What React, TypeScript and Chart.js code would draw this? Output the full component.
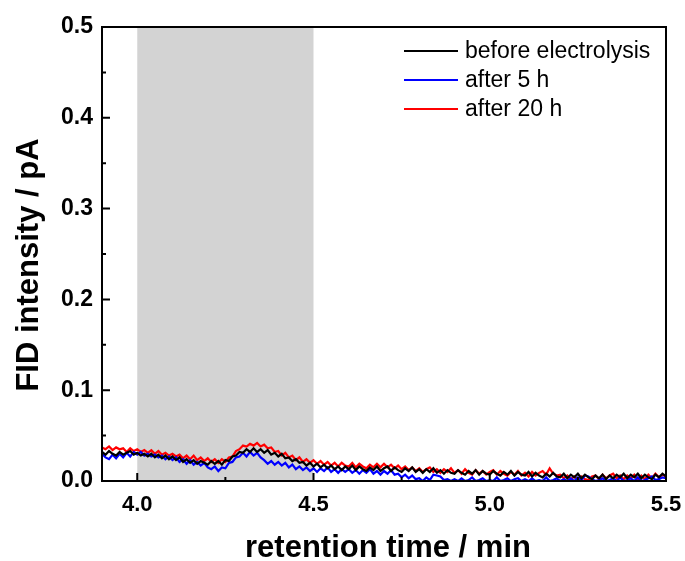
import React, { useEffect, useRef } from "react";
import { Chart, registerables } from "chart.js";

Chart.register(...registerables);

const T0 = 3.9;
const DT = 0.01;

const seriesNames = ["before electrolysis", "after 5 h", "after 20 h"];
const seriesColors = ["#000000", "#0000ff", "#ff0000"];
const xTitle = "retention time / min";
const yTitle = "FID intensity / pA";

const beforeElectrolysis = [
  0.032, 0.029, 0.033, 0.030, 0.028, 0.032, 0.029, 0.031, 0.033, 0.029,
  0.031, 0.028, 0.030, 0.027, 0.030, 0.026, 0.029, 0.025, 0.028, 0.024,
  0.027, 0.023, 0.026, 0.021, 0.024, 0.020, 0.023, 0.019, 0.022, 0.020,
  0.018, 0.022, 0.019, 0.022, 0.018, 0.023, 0.022, 0.027, 0.028, 0.032,
  0.031, 0.035, 0.032, 0.036, 0.032, 0.035, 0.031, 0.034, 0.029, 0.031,
  0.027, 0.030, 0.025, 0.026, 0.022, 0.024, 0.020, 0.021, 0.017, 0.020,
  0.016, 0.019, 0.015, 0.018, 0.014, 0.017, 0.013, 0.016, 0.012, 0.016,
  0.013, 0.017, 0.012, 0.016, 0.013, 0.011, 0.015, 0.012, 0.016, 0.011,
  0.014, 0.016, 0.011, 0.015, 0.012, 0.010, 0.014, 0.011, 0.015, 0.010,
  0.013, 0.009, 0.013, 0.010, 0.014, 0.009, 0.012, 0.008, 0.012, 0.009,
  0.008, 0.012, 0.009, 0.007, 0.011, 0.008, 0.012, 0.007, 0.011, 0.008,
  0.007, 0.011, 0.008, 0.006, 0.010, 0.007, 0.011, 0.006, 0.010, 0.007,
  0.006, 0.010, 0.005, 0.009, 0.006, 0.004, 0.008, 0.005, 0.009, 0.005,
  0.004, 0.008, 0.003, 0.007, 0.004, 0.008, 0.003, 0.007, 0.004, 0.002,
  0.006, 0.003, 0.007, 0.002, 0.006, 0.003, 0.007, 0.004, 0.008, 0.003,
  0.007, 0.004, 0.008, 0.003, 0.007, 0.004, 0.002, 0.007, 0.004, 0.008,
  0.005,
];

const after5h = [
  0.030, 0.026, 0.024, 0.029, 0.025, 0.030, 0.026, 0.031, 0.027, 0.032,
  0.029, 0.032, 0.028, 0.030, 0.027, 0.029, 0.026, 0.028, 0.024, 0.027,
  0.023, 0.026, 0.021, 0.024, 0.019, 0.023, 0.018, 0.021, 0.017, 0.020,
  0.015, 0.013, 0.016, 0.011, 0.015, 0.014, 0.020, 0.021, 0.026, 0.027,
  0.031, 0.027, 0.032, 0.028, 0.031, 0.026, 0.023, 0.019, 0.022, 0.018,
  0.021, 0.017, 0.020, 0.015, 0.018, 0.013, 0.016, 0.012, 0.015, 0.011,
  0.014, 0.010, 0.014, 0.011, 0.015, 0.010, 0.013, 0.009, 0.013, 0.010,
  0.013, 0.009, 0.012, 0.008, 0.012, 0.009, 0.013, 0.008, 0.011, 0.007,
  0.011, 0.008, 0.012, 0.007, 0.008, 0.004, 0.007, 0.003, 0.006, 0.002,
  0.003, 0.000, 0.004, 0.001, 0.007, 0.006, 0.005, 0.001, 0.002, 0.000,
  0.002, 0.000, 0.003, 0.000, 0.001, 0.004, 0.000, 0.001, 0.003, 0.000,
  0.001, 0.000, 0.004, 0.000, 0.001, 0.003, 0.000, 0.002, 0.003, 0.000,
  0.002, 0.000, 0.003, 0.000, 0.001, 0.000, 0.004, 0.000, 0.001, 0.003,
  0.000, 0.002, 0.000, 0.003, 0.000, 0.004, 0.001, 0.006, 0.005, 0.002,
  0.000, 0.001, 0.003, 0.000, 0.001, 0.003, 0.000, 0.004, 0.000, 0.001,
  0.003, 0.000, 0.004, 0.000, 0.001, 0.003, 0.005, 0.001, 0.002, 0.004,
  0.003,
];

const after20h = [
  0.037, 0.035, 0.038, 0.034, 0.037, 0.035, 0.036, 0.032, 0.036, 0.033,
  0.035, 0.032, 0.034, 0.031, 0.034, 0.030, 0.033, 0.029, 0.031, 0.028,
  0.030, 0.027, 0.029, 0.025, 0.028, 0.024, 0.028, 0.023, 0.026, 0.022,
  0.025, 0.021, 0.024, 0.020, 0.024, 0.021, 0.026, 0.027, 0.033, 0.035,
  0.039, 0.038, 0.041, 0.039, 0.042, 0.038, 0.040, 0.036, 0.037, 0.032,
  0.033, 0.028, 0.031, 0.026, 0.028, 0.023, 0.026, 0.021, 0.024, 0.020,
  0.023, 0.019, 0.022, 0.018, 0.021, 0.017, 0.020, 0.016, 0.020, 0.017,
  0.016, 0.020, 0.015, 0.019, 0.016, 0.014, 0.018, 0.015, 0.019, 0.015,
  0.019, 0.015, 0.018, 0.014, 0.017, 0.013, 0.016, 0.012, 0.015, 0.011,
  0.014, 0.010, 0.013, 0.015, 0.010, 0.013, 0.009, 0.013, 0.010, 0.014,
  0.009, 0.012, 0.008, 0.013, 0.009, 0.007, 0.012, 0.008, 0.011, 0.007,
  0.010, 0.012, 0.007, 0.011, 0.008, 0.006, 0.010, 0.007, 0.011, 0.006,
  0.009, 0.005, 0.010, 0.006, 0.009, 0.011, 0.007, 0.014, 0.008, 0.006,
  0.007, 0.003, 0.006, 0.002, 0.005, 0.001, 0.005, 0.002, 0.001, 0.005,
  0.006, 0.002, 0.007, 0.003, 0.006, 0.008, 0.003, 0.006, 0.002, 0.006,
  0.003, 0.007, 0.001, 0.006, 0.002, 0.007, 0.003, 0.008, 0.004, 0.007,
  0.005,
];

const xMajorTicks = [4.0, 4.5, 5.0, 5.5];
const xMinorTicks = [4.25, 4.75, 5.25];
const yMajorTicks = [0.0, 0.1, 0.2, 0.3, 0.4, 0.5];
const yMinorTicks = [0.05, 0.15, 0.25, 0.35, 0.45];
const shadedRange = [4.0, 4.5];

const FONT = "'Liberation Sans', Arial, sans-serif";

function toPoints(values: number[]) {
  return values.map((v, i) => ({ x: +(T0 + i * DT).toFixed(2), y: v }));
}

const shadePlugin = {
  id: "shade",
  beforeDatasetsDraw(chart: any) {
    const { ctx, chartArea, scales } = chart;
    const x0 = scales.x.getPixelForValue(shadedRange[0]);
    const x1 = scales.x.getPixelForValue(shadedRange[1]);
    ctx.save();
    ctx.fillStyle = "#d3d3d3";
    ctx.fillRect(x0, chartArea.top, x1 - x0, chartArea.bottom - chartArea.top);
    ctx.restore();
  },
};

const framePlugin = {
  id: "frame",
  afterDatasetsDraw(chart: any) {
    const { ctx, chartArea, scales } = chart;
    const { left, right, top, bottom } = chartArea;
    ctx.save();
    ctx.strokeStyle = "#000";
    ctx.lineWidth = 2;
    ctx.strokeRect(left, top, right - left, bottom - top);
    ctx.beginPath();
    xMajorTicks.forEach((v) => {
      const px = scales.x.getPixelForValue(v);
      ctx.moveTo(px, bottom);
      ctx.lineTo(px, bottom - 8);
    });
    xMinorTicks.forEach((v) => {
      const px = scales.x.getPixelForValue(v);
      ctx.moveTo(px, bottom);
      ctx.lineTo(px, bottom - 4);
    });
    yMajorTicks.forEach((v) => {
      const py = scales.y.getPixelForValue(v);
      ctx.moveTo(left, py);
      ctx.lineTo(left + 8, py);
    });
    yMinorTicks.forEach((v) => {
      const py = scales.y.getPixelForValue(v);
      ctx.moveTo(left, py);
      ctx.lineTo(left + 4, py);
    });
    ctx.stroke();

    // axis titles
    ctx.fillStyle = "#000";
    ctx.font = `bold 31px ${FONT}`;
    ctx.textAlign = "center";
    ctx.textBaseline = "middle";
    ctx.fillText(xTitle, 388, 548);
    ctx.save();
    ctx.translate(29, 265);
    ctx.rotate(-Math.PI / 2);
    ctx.fillText(yTitle, 0, 0);
    ctx.restore();

    // legend
    ctx.font = `23px ${FONT}`;
    ctx.textBaseline = "middle";
    ctx.textAlign = "left";
    ctx.fillStyle = "#000";
    chart.data.datasets.forEach((ds: any, i: number) => {
      const y = 51 + i * 29;
      ctx.beginPath();
      ctx.strokeStyle = ds.borderColor;
      ctx.lineWidth = 2;
      ctx.moveTo(404, y);
      ctx.lineTo(458, y);
      ctx.stroke();
      ctx.fillText(ds.label, 465, y + 1);
    });
    ctx.restore();
  },
};

export default function App() {
  const ref = useRef<HTMLCanvasElement>(null);
  useEffect(() => {
    if (!ref.current) return;
    const allSeries = [beforeElectrolysis, after5h, after20h];
    const chart = new Chart(ref.current, {
      type: "line",
      data: {
        datasets: allSeries.map((s, i) => ({
          label: seriesNames[i],
          data: toPoints(s),
          borderColor: seriesColors[i],
          backgroundColor: seriesColors[i],
          borderWidth: 2.2,
          pointRadius: 0,
          tension: 0,
          fill: false,
        })),
      },
      options: {
        responsive: false,
        animation: false,
        layout: { padding: { top: 27, right: 19, left: 0, bottom: 0 } },
        plugins: { legend: { display: false }, tooltip: { enabled: false } },
        scales: {
          x: {
            type: "linear",
            min: 3.9,
            max: 5.5,
            grid: { display: false, drawTicks: false },
            border: { display: false },
            afterBuildTicks: (scale: any) => {
              scale.ticks = xMajorTicks.map((v) => ({ value: v }));
            },
            afterFit: (scale: any) => {
              scale.height = 80;
              scale.paddingLeft = 0;
              scale.paddingRight = 0;
            },
            ticks: {
              padding: 11,
              color: "#000",
              font: { family: FONT, size: 22, weight: "bold" },
              callback: (v: any) => Number(v).toFixed(1),
              maxRotation: 0,
            },
            title: { display: false },
          },
          y: {
            type: "linear",
            min: 0,
            max: 0.5,
            grid: { display: false, drawTicks: false },
            border: { display: false },
            afterBuildTicks: (scale: any) => {
              scale.ticks = yMajorTicks.map((v) => ({ value: v }));
            },
            afterFit: (scale: any) => {
              scale.width = 102;
              scale.paddingTop = 0;
              scale.paddingBottom = 0;
            },
            ticks: {
              padding: 9,
              color: "#000",
              font: { family: FONT, size: 23, weight: "bold" },
              callback: (v: any) => Number(v).toFixed(1),
            },
            title: { display: false },
          },
        },
      },
      plugins: [shadePlugin, framePlugin],
    });
    return () => chart.destroy();
  }, []);
  return (
    <div style={{ position: "fixed", left: 0, top: 0, width: 685, height: 561, background: "#fff" }}>
      <canvas ref={ref} width={685} height={561} />
    </div>
  );
}
